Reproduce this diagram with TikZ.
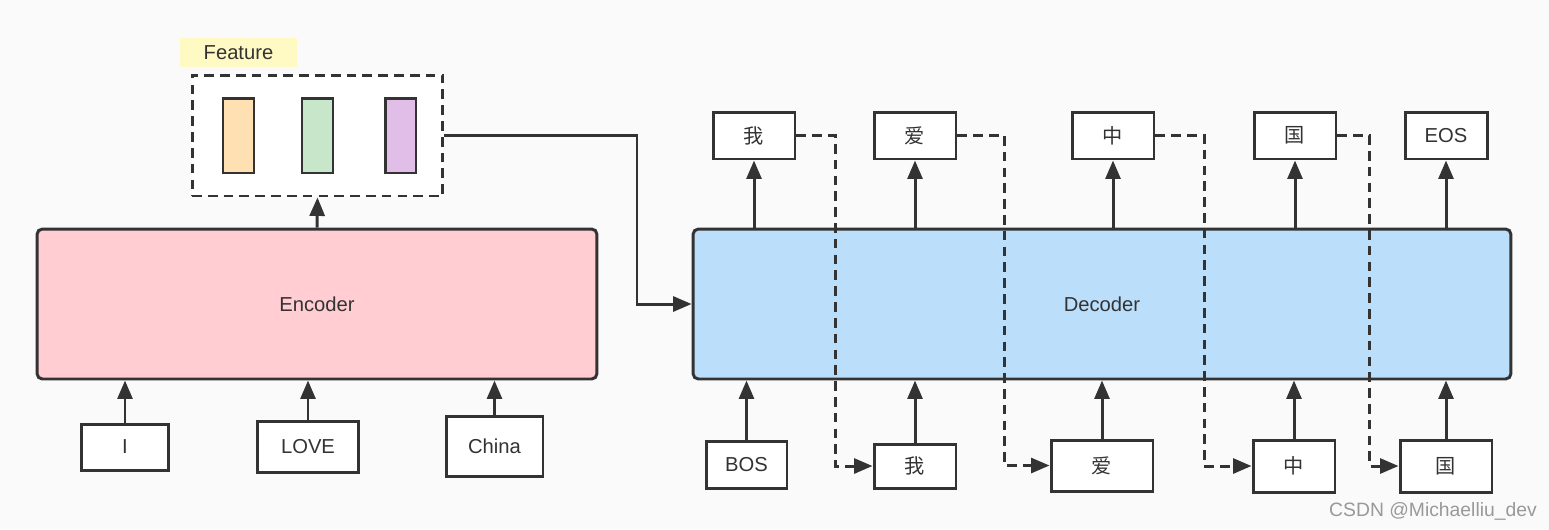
\documentclass[tikz,border=0pt]{standalone}
\usepackage{fontspec}
\setmainfont{Liberation Sans}
\newfontfamily\cjk{Noto Sans CJK SC}
\usepackage{xcolor}
\definecolor{bgcol}{RGB}{250,250,250}
\definecolor{inkcol}{RGB}{51,51,51}
\definecolor{encpink}{RGB}{255,205,210}
\definecolor{decblue}{RGB}{187,222,251}
\definecolor{featyellow}{RGB}{255,249,196}
\definecolor{vecorange}{RGB}{255,224,178}
\definecolor{vecgreen}{RGB}{200,230,201}
\definecolor{vecpurple}{RGB}{225,190,231}
\usetikzlibrary{arrows.meta,positioning,calc}

\begin{document}
\begin{tikzpicture}[x=0.02cm,y=-0.02cm,
  tokbox/.style={draw=inkcol,fill=white,line width=1.7pt,minimum width=1.64cm,minimum height=0.94cm,
    inner sep=0pt,font=\fontsize{11.5}{13}\selectfont,text=inkcol},
  coder/.style={draw=inkcol,line width=1.7pt,rounded corners=3pt,minimum height=3.0cm,
    inner sep=0pt,font=\fontsize{11.5}{13}\selectfont,text=inkcol},
  vecbar/.style={draw=inkcol,line width=1.7pt,minimum width=0.62cm,minimum height=1.5cm,inner sep=0pt},
  arr/.style={draw=inkcol,line width=1.7pt,-{Triangle[length=10.5pt,width=8.5pt]}},
  dasharr/.style={arr,dash pattern=on 5.5pt off 3.5pt}
]
  % background
  \fill[bgcol] (0,0) rectangle (1549,529);

  % feature vectors
  \node[fill=featyellow,minimum width=2.34cm,minimum height=0.58cm,inner sep=0pt,
    font=\fontsize{11.5}{13}\selectfont,text=inkcol] (flabel) at (238.5,52.5) {Feature};
  \node[draw=inkcol,fill=white,line width=1.7pt,dash pattern=on 5.5pt off 3.5pt,
    minimum width=5.02cm,minimum height=2.42cm,inner sep=0pt] (feat) at (317.5,135.5) {};
  \node[vecbar,fill=vecorange] (v1) at (238.5,135.5) {};
  \node[vecbar,fill=vecgreen] (v2) at (317.5,135.5) {};
  \node[vecbar,fill=vecpurple] (v3) at (400.5,135.5) {};

  % encoder side
  \node[coder,fill=encpink,minimum width=11.2cm] (enc) at (317,304) {Encoder};
  \node[tokbox,minimum width=1.76cm,minimum height=0.92cm] (i1) at (125,447) {I};
  \node[tokbox,minimum width=2.04cm,minimum height=1.02cm] (i2) at (308,446.5) {LOVE};
  \node[tokbox,minimum width=1.94cm,minimum height=1.2cm] (i3) at (494.5,446) {China};
  \draw[arr] (i1.north) -- (i1 |- enc.south);
  \draw[arr] (i2.north) -- (i2 |- enc.south);
  \draw[arr] (i3.north) -- (i3 |- enc.south);
  \draw[arr] (enc.north) -- (feat.south);

  % decoder side
  \node[coder,fill=decblue,minimum width=16.36cm] (dec) at (1102,304) {Decoder};
  \coordinate (bend) at (637,304);
  \draw[arr] (feat.east) -| (bend) -- (dec.west);

  % outputs
  \node[tokbox] (o1) at (754,135.5) {\cjk 我};
  \node[tokbox] (o2) at (915,135.5) {\cjk 爱};
  \node[tokbox] (o3) at (1113,135.5) {\cjk 中};
  \node[tokbox] (o4) at (1295,135.5) {\cjk 国};
  \node[tokbox] (o5) at (1446,135.5) {EOS};
  \draw[arr] (o1 |- dec.north) -- (o1.south);
  \draw[arr] (o2 |- dec.north) -- (o2.south);
  \draw[arr] (o3 |- dec.north) -- (o3.south);
  \draw[arr] (o4 |- dec.north) -- (o4.south);
  \draw[arr] (o5 |- dec.north) -- (o5.south);

  % shifted inputs
  \node[tokbox,minimum width=1.62cm] (b1) at (746.5,464.5) {BOS};
  \node[tokbox,minimum height=0.88cm] (b2) at (915,466) {\cjk 我};
  \node[tokbox,minimum width=2.04cm,minimum height=1.02cm] (b3) at (1102,465.5) {\cjk 爱};
  \node[tokbox,minimum height=1.04cm] (b4) at (1294,466) {\cjk 中};
  \node[tokbox,minimum width=1.84cm,minimum height=1.04cm] (b5) at (1446,466) {\cjk 国};
  \draw[arr] (b1.north) -- (b1 |- dec.south);
  \draw[arr] (b2.north) -- (b2 |- dec.south);
  \draw[arr] (b3.north) -- (b3 |- dec.south);
  \draw[arr] (b4.north) -- (b4 |- dec.south);
  \draw[arr] (b5.north) -- (b5 |- dec.south);

  % feedback of each output
  \draw[dasharr] (o1.east) -- ++(39,0) |- (b2.west);
  \draw[dasharr] (o2.east) -- ++(47,0) |- (b3.west);
  \draw[dasharr] (o3.east) -- ++(49,0) |- (b4.west);
  \draw[dasharr] (o4.east) -- ++(32,0) |- (b5.west);

  % watermark
  \node[text=black!40,font=\fontsize{11}{13}\selectfont] (mark) at (1433,511) {CSDN @Michaelliu\_dev};
\end{tikzpicture}
\end{document}
